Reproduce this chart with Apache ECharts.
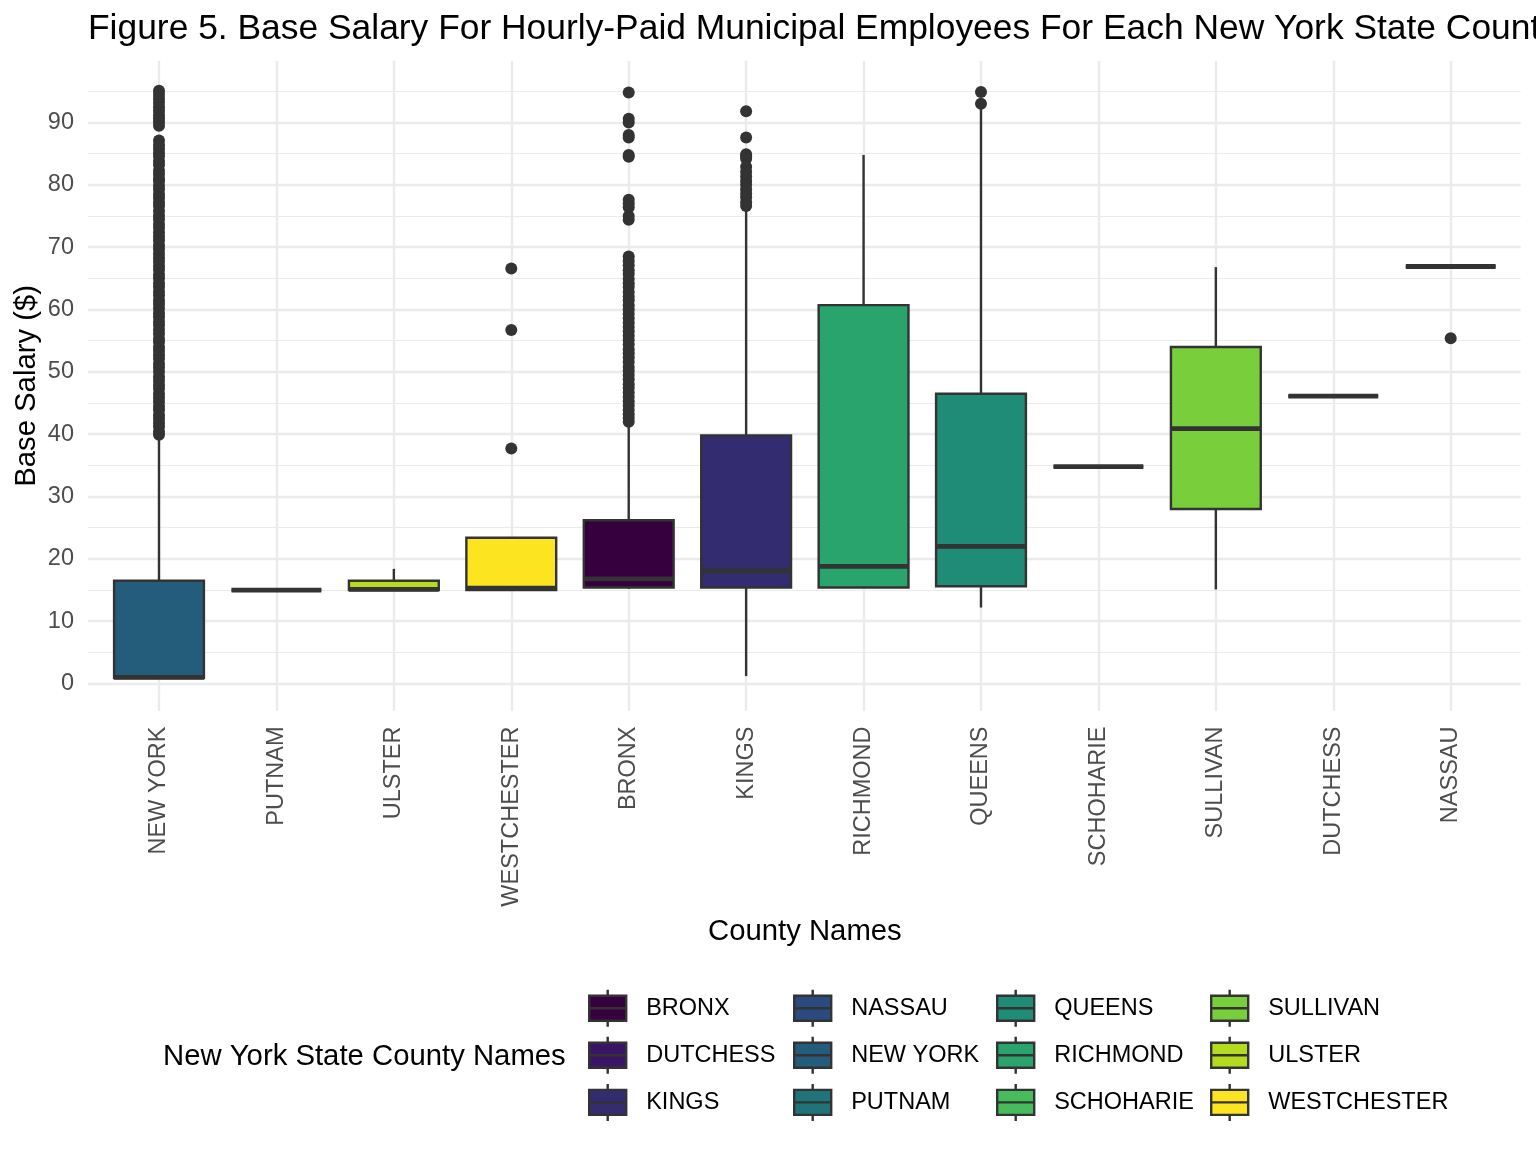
<!DOCTYPE html>
<html><head><meta charset="utf-8">
<script src="https://cdn.jsdelivr.net/npm/echarts@6/dist/echarts.min.js"></script>
<style>html,body{margin:0;padding:0;background:#fff}#c{width:1536px;height:1152px}</style>
</head><body><div id="c"></div>
<script>
// ---------------- DATA ----------------
const counties = ['NEW YORK','PUTNAM','ULSTER','WESTCHESTER','BRONX','KINGS','RICHMOND','QUEENS','SCHOHARIE','SULLIVAN','DUTCHESS','NASSAU'];
// box statistics, aligned with counties
const whiskerLow  = [0.9, 15.0, 15.0, 15.0, 15.2, 1.2, 15.4, 12.2, 34.8, 15.1, 46.1, 66.9];
const quartile1   = [0.9, 15.0, 15.0, 15.0, 15.4, 15.4, 15.4, 15.6, 34.8, 28.0, 46.1, 66.9];
const medians     = [1.0, 15.0, 15.1, 15.3, 16.8, 18.1, 18.8, 22.0, 34.8, 40.9, 46.1, 66.9];
const quartile3   = [16.5, 15.0, 16.5, 23.4, 26.2, 39.8, 60.7, 46.5, 34.8, 54.0, 46.1, 66.9];
const whiskerHigh = [39.5, 15.0, 18.4, 23.4, 41.4, 76.4, 84.8, 92.7, 34.8, 66.8, 46.1, 66.9];
// outliers
const outliersNewYork = [95.1, 94.5, 93.8, 93.2, 92.5, 91.9, 91.2, 90.7, 90.1, 89.5,
  87.1, 86.4, 85.8, 85.1, 84.6, 83.8, 83.2, 82.3, 81.7, 81.0,
  80.6, 79.9, 79.3, 78.5, 77.9, 77.2, 76.6, 75.8, 75.1, 74.5, 73.7, 73.1, 72.4, 71.7, 71.1, 70.3,
  69.7, 69.0, 68.3, 67.7, 67.0, 66.4, 65.6, 65.0, 64.2, 63.6, 62.9, 62.3, 61.5, 60.9, 60.2, 59.4,
  58.8, 58.1, 57.5, 56.8, 56.1, 55.3, 54.8, 54.0, 53.4, 52.7, 52.1, 51.3, 50.7, 50.0, 49.2, 48.6,
  47.9, 47.3, 46.5, 45.9, 45.2, 44.5, 43.9, 43.1, 42.5, 41.8, 41.2, 40.4, 39.9];
const outliersWestchester = [66.6, 56.7, 37.7];
const outliersBronx = [94.8, 90.6, 90.0, 88.0, 87.6, 84.8, 84.5, 77.6, 77.0, 76.4, 75.0, 74.4,
  68.5, 67.8, 67.1, 66.3, 65.7, 64.9, 64.2, 63.6, 62.8, 62.1, 61.5, 60.7, 60.0, 59.3, 58.6, 57.9,
  57.2, 56.5, 55.8, 55.1, 54.4, 53.6, 53.0, 52.3, 51.6, 50.8, 50.2, 49.5, 48.8, 48.0, 47.4, 46.7,
  46.0, 45.3, 44.6, 43.9, 43.2, 42.6, 42.0];
const outliersKings = [91.8, 87.6, 84.9, 84.6, 84.2, 82.9, 82.1, 81.4, 80.6, 80.0, 79.3, 78.6, 78.0, 77.2, 76.6];
const outliersQueens = [94.9, 93.0];
const outliersNassau = [55.4];
// legend (column-major, as in the reference)
const legendOrder = ['BRONX','DUTCHESS','KINGS','NASSAU','NEW YORK','PUTNAM','QUEENS','RICHMOND','SCHOHARIE','SULLIVAN','ULSTER','WESTCHESTER'];
const legendColors = ['#36003F','#3B1565','#332C70','#2B4A7F','#245D7B','#1F7479','#1F8C78','#2AA46D','#47BC5B','#78CF3B','#B5DB1E','#FCE421'];
// y axis ticks
const yTicks = [0, 10, 20, 30, 40, 50, 60, 70, 80, 90];

// ---------------- LAYOUT ----------------
const FONT = '"Liberation Sans", Arial, Helvetica, sans-serif';
const W = 1536, H = 1152;
const PLOT_LEFT = 88, PLOT_RIGHT = 1520.7;
const PLOT_TOP = 60.8, PLOT_BOTTOM = 711;
const Y_MIN = -4.4, Y_MAX = 99.9;
const FIRST_CENTER = 159, LAST_CENTER = 1450.7;
function py(v) { return PLOT_TOP + (Y_MAX - v) / (Y_MAX - Y_MIN) * (PLOT_BOTTOM - PLOT_TOP); }
const GRID_COL = '#EBEBEB';
const DARK = '#333333';

const colorOf = name => legendColors[legendOrder.indexOf(name)];

const outlierMap = {
  'NEW YORK': outliersNewYork, 'WESTCHESTER': outliersWestchester, 'BRONX': outliersBronx,
  'KINGS': outliersKings, 'QUEENS': outliersQueens, 'NASSAU': outliersNassau
};
const outlierData = [];
counties.forEach(c => (outlierMap[c] || []).forEach(v => outlierData.push([c, v])));

function renderBox(params, api) {
  const xi = api.value(0);
  const pLo = api.coord([xi, api.value(1)]);
  const pQ1 = api.coord([xi, api.value(2)]);
  const pMed = api.coord([xi, api.value(3)]);
  const pQ3 = api.coord([xi, api.value(4)]);
  const pHi = api.coord([xi, api.value(5)]);
  const x = pMed[0];
  const w = api.size([1, 0])[0] * 0.765;
  const fill = api.visual('color');
  const lw = 2.4;
  return {
    type: 'group',
    children: [
      { type: 'line', shape: { x1: x, y1: pQ3[1], x2: x, y2: pHi[1] }, style: { stroke: DARK, lineWidth: lw } },
      { type: 'line', shape: { x1: x, y1: pQ1[1], x2: x, y2: pLo[1] }, style: { stroke: DARK, lineWidth: lw } },
      { type: 'rect', shape: { x: x - w / 2, y: pQ3[1], width: w, height: pQ1[1] - pQ3[1] }, style: { fill: fill, stroke: DARK, lineWidth: lw } },
      { type: 'line', shape: { x1: x - w / 2, y1: pMed[1], x2: x + w / 2, y2: pMed[1] }, style: { stroke: DARK, lineWidth: 4.8 } }
    ]
  };
}

const boxSeries = counties.map((c, i) => ({
  name: c,
  type: 'custom',
  xAxisIndex: 2, yAxisIndex: 2,
  itemStyle: { color: colorOf(c) },
  renderItem: renderBox,
  encode: { x: 0, y: [1, 2, 3, 4, 5] },
  data: [[c, whiskerLow[i], quartile1[i], medians[i], quartile3[i], whiskerHigh[i]]],
  z: 3
}));

const ICON = 'path://M0,6H37V31H0Z M0,18.5H37 M18.5,0V6 M18.5,31V37';
const legendLefts = [588, 793, 996, 1210];
const legends = legendLefts.map((left, col) => ({
  orient: 'vertical',
  left: left,
  top: 988.5,
  padding: 0,
  itemGap: 7.7,
  itemWidth: 37,
  itemHeight: 37,
  icon: ICON,
  selectedMode: false,
  itemStyle: { borderColor: DARK, borderWidth: 2.4 },
  textStyle: { fontFamily: FONT, fontSize: 23.5, color: '#000', lineHeight: 37, padding: [0, 0, 0, 15] },
  data: legendOrder.slice(col * 3, col * 3 + 3).map(n => ({
    name: n, itemStyle: { color: colorOf(n), borderColor: DARK, borderWidth: 2.4 }
  }))
}));

const option = {
  backgroundColor: '#ffffff',
  animation: false,
  textStyle: { fontFamily: FONT },
  title: [
    { text: 'Figure 5. Base Salary For Hourly-Paid Municipal Employees For Each New York State County',
      left: 88, top: 9, padding: 0,
      textStyle: { fontFamily: FONT, fontSize: 35.4, fontWeight: 'normal', color: '#000', lineHeight: 40 } },
    { text: 'New York State County Names', left: 163, top: 1039.5, padding: 0,
      textStyle: { fontFamily: FONT, fontSize: 29.3, fontWeight: 'normal', color: '#000', lineHeight: 34 } }
  ],
  legend: legends,
  grid: [
    // major horizontal gridlines + y labels
    { left: PLOT_LEFT, right: W - PLOT_RIGHT, top: py(yTicks[yTicks.length - 1]), bottom: H - py(yTicks[0]) },
    // minor horizontal gridlines
    { left: PLOT_LEFT, right: W - PLOT_RIGHT, top: py(95), bottom: H - py(-5) },
    // data panel
    { left: FIRST_CENTER, right: W - LAST_CENTER, top: PLOT_TOP, bottom: H - PLOT_BOTTOM }
  ],
  xAxis: [
    { gridIndex: 0, type: 'value', show: false, min: 0, max: 1 },
    { gridIndex: 1, type: 'value', show: false, min: 0, max: 1 },
    { gridIndex: 2, type: 'category', data: counties, boundaryGap: false,
      axisLine: { show: false }, axisTick: { show: false },
      axisLabel: { interval: 0, rotate: 90, margin: 15.5, fontSize: 23.5, color: '#4D4D4D', fontFamily: FONT },
      splitLine: { show: true, interval: 0, lineStyle: { color: GRID_COL, width: 2.4 } },
      name: 'County Names', nameLocation: 'middle', nameGap: 196,
      nameTextStyle: { fontSize: 29.3, color: '#000', fontFamily: FONT, lineHeight: 34 } }
  ],
  yAxis: [
    { gridIndex: 0, type: 'value', min: yTicks[0], max: yTicks[yTicks.length - 1], interval: yTicks[1] - yTicks[0],
      axisLine: { show: false }, axisTick: { show: false },
      axisLabel: { margin: 14, fontSize: 23.5, color: '#4D4D4D', fontFamily: FONT },
      splitLine: { show: true, lineStyle: { color: GRID_COL, width: 2.4 } } },
    { gridIndex: 1, type: 'value', min: -5, max: 95, interval: 10,
      axisLine: { show: false }, axisTick: { show: false }, axisLabel: { show: false },
      splitLine: { show: true, showMinLine: false, lineStyle: { color: GRID_COL, width: 1.2 } } },
    { gridIndex: 2, type: 'value', min: Y_MIN, max: Y_MAX,
      axisLine: { show: false }, axisTick: { show: false }, axisLabel: { show: false },
      splitLine: { show: false },
      name: 'Base Salary ($)', nameLocation: 'middle', nameRotate: 90, nameGap: 115.5,
      nameTextStyle: { fontSize: 29.3, color: '#000', fontFamily: FONT, lineHeight: 34 } }
  ],
  series: boxSeries.concat([{
    name: 'outliers',
    type: 'scatter',
    xAxisIndex: 2, yAxisIndex: 2,
    symbol: 'circle',
    symbolSize: 12,
    itemStyle: { color: DARK, opacity: 1 },
    data: outlierData,
    z: 4
  }])
};

const chart = echarts.init(document.getElementById('c'), null, { renderer: 'canvas', width: W, height: H });
chart.setOption(option);
</script>
</body></html>
